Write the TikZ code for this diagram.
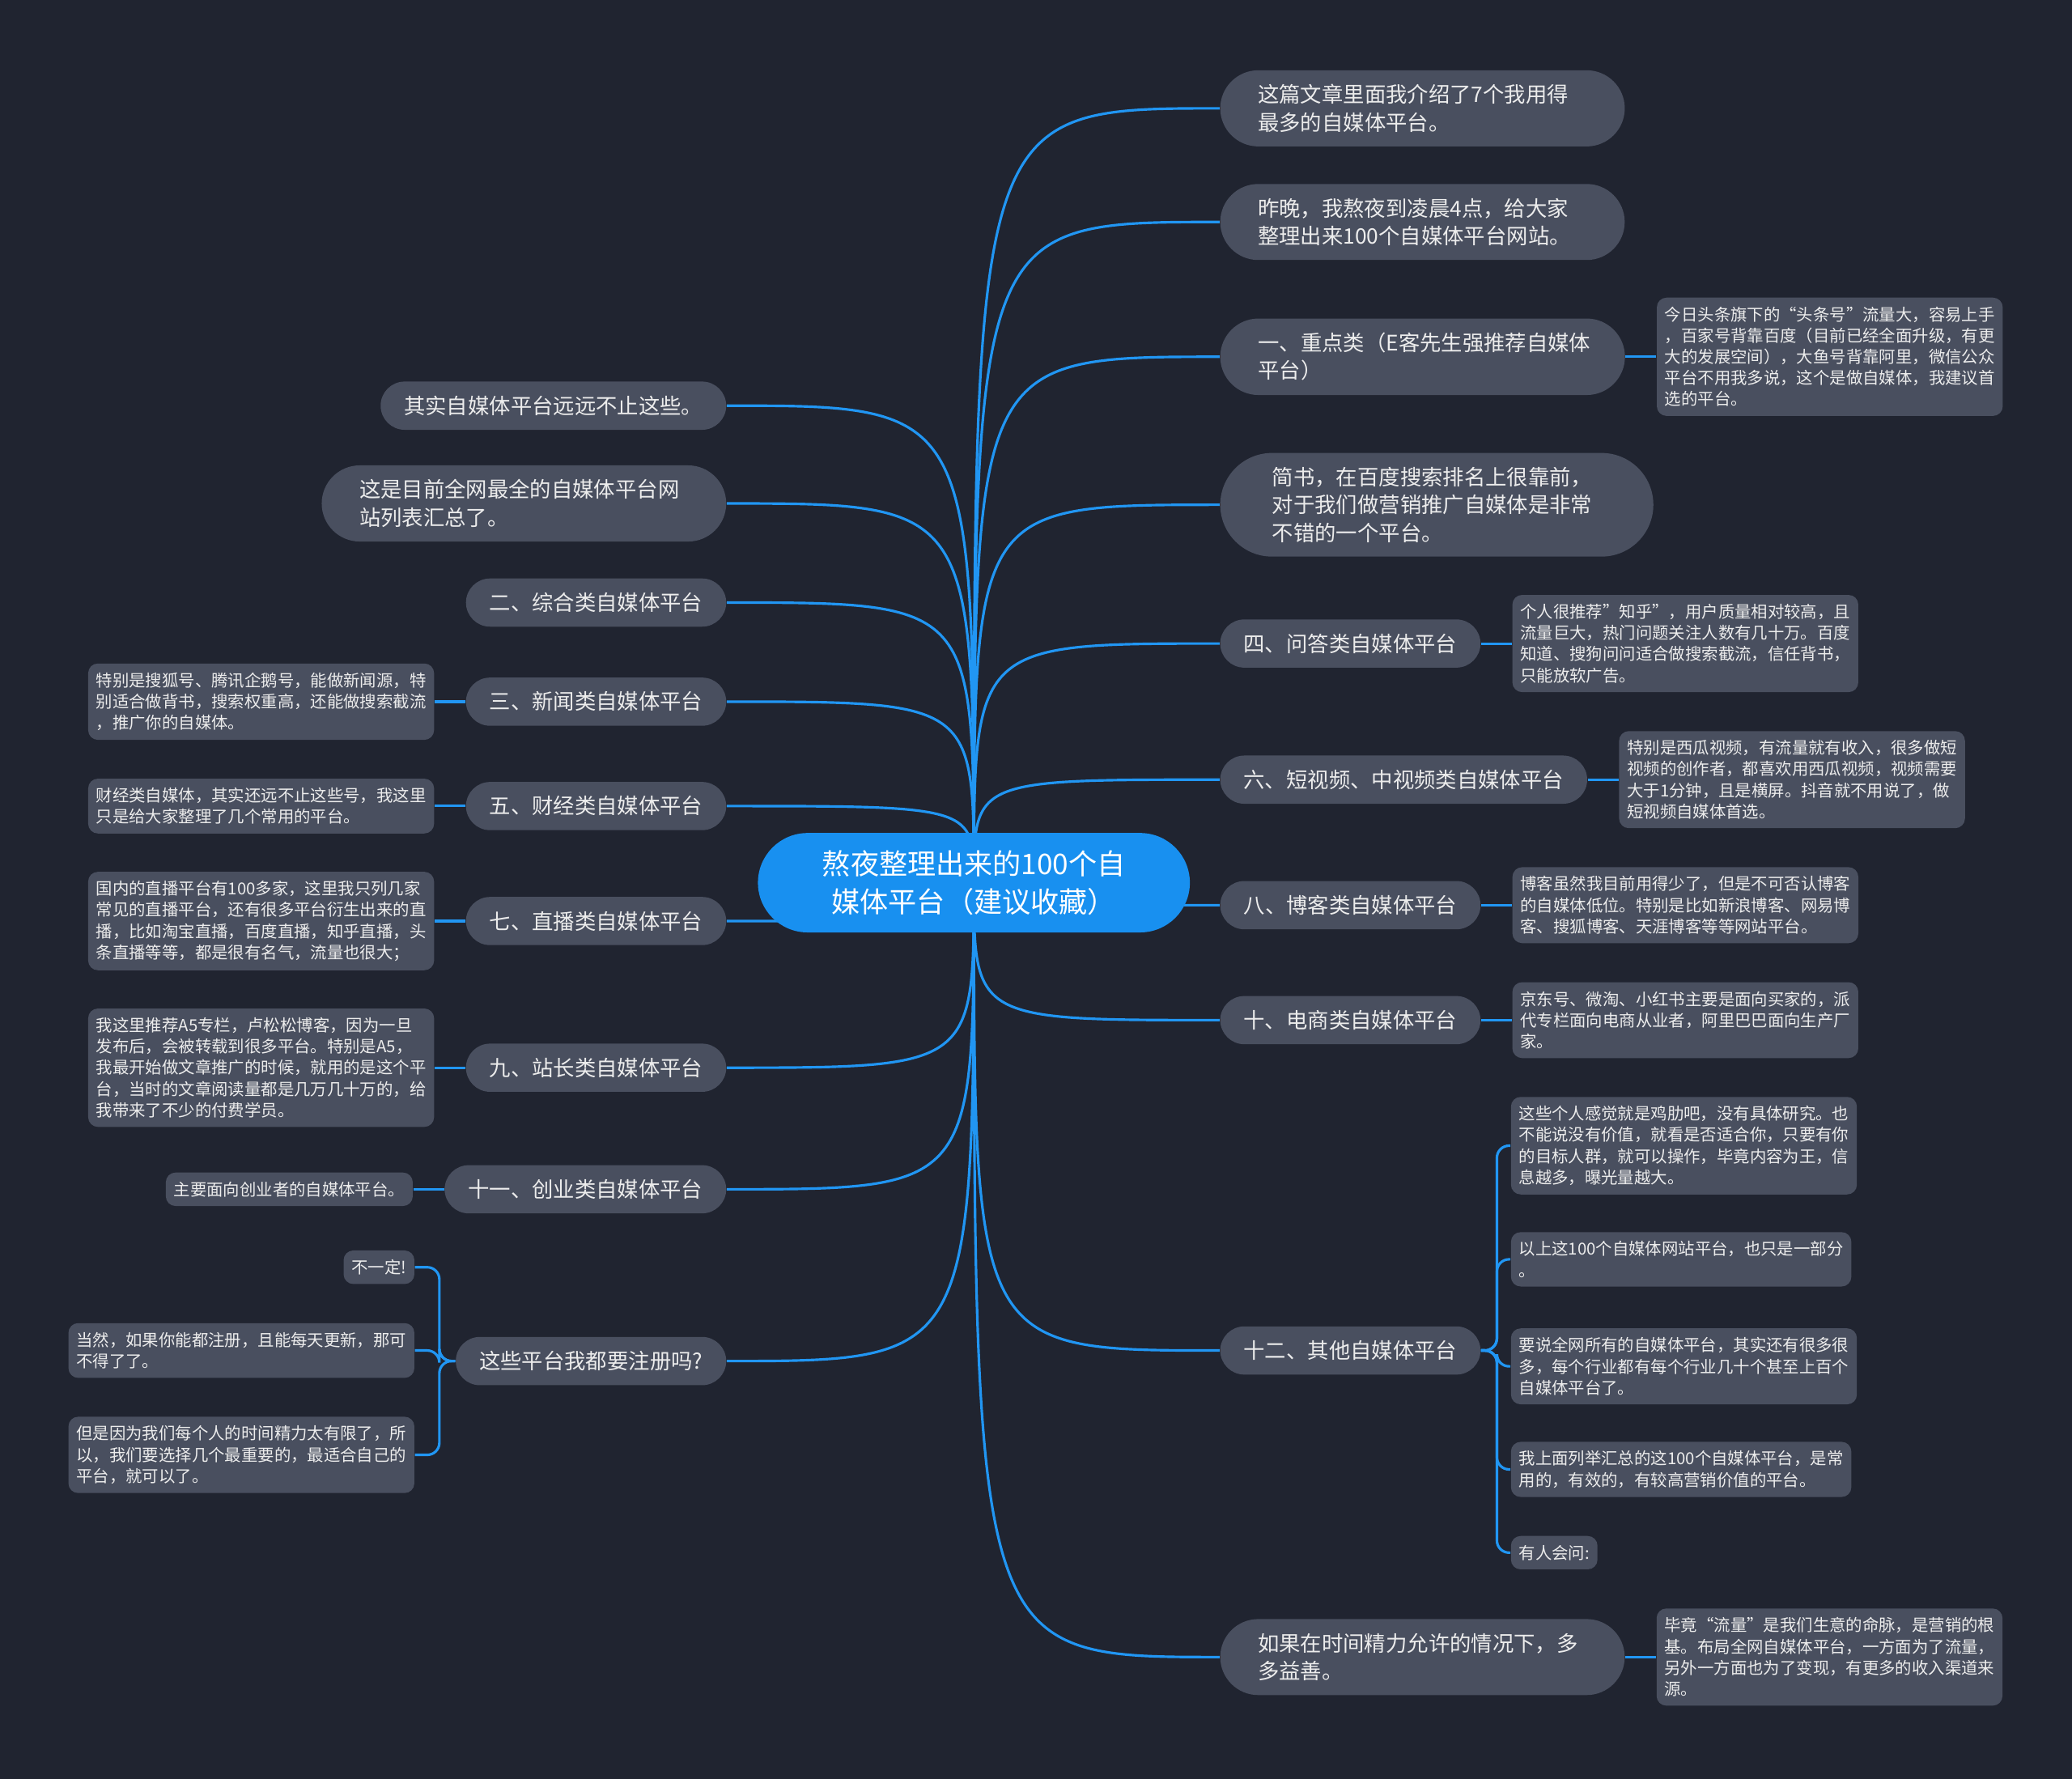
\documentclass[tikz,border=0pt]{standalone}
\usepackage{fontspec}
\setmainfont{Noto Sans CJK SC}
\usetikzlibrary{positioning,shapes.misc}
\definecolor{nightbg}{RGB}{32,36,48}
\definecolor{slatebox}{RGB}{73,79,95}
\definecolor{wireblue}{RGB}{33,150,243}
\definecolor{hubblue}{RGB}{24,144,240}
\definecolor{softwhite}{RGB}{236,236,236}

\begin{document}
\begin{tikzpicture}[x=0.016327cm, y=-0.016327cm, node distance=3.8mm,
  every node/.style={text=softwhite},
  branch/.style={rounded rectangle,fill=slatebox,inner xsep=7.5pt,inner ysep=5pt,
                 align=left,font=\fontsize{7.5}{9.75}\selectfont},
  % wrapped branches: fixed width, the ends grow with the height
  twoline/.style={branch,inner xsep=10.3pt,text width=115.7pt},
  threeline/.style={branch,inner xsep=12.6pt,text width=115.7pt},
  leaf/.style={fill=slatebox,rounded corners=1.2mm,inner xsep=2.8pt,inner ysep=3.2pt,
               align=left,font=\fontsize{5.8}{7.45}\selectfont},
  hubnode/.style={rounded rectangle,fill=hubblue,text=white,inner xsep=18.3pt,inner ysep=6pt,
                  align=center,font=\fontsize{10}{13.5}\selectfont},
  link/.style={draw=wireblue,line width=0.9pt}]

\useasboundingbox (0,0) rectangle (1568,1346);
\fill[nightbg] (0,0) rectangle (1568,1346);

\coordinate (hub) at (737,668);

% right side
\node[twoline,anchor=west] (rA) at (923,82)   {这篇文章里面我介绍了7个我用得\\最多的自媒体平台。};
\node[twoline,anchor=west] (rB) at (923,168)  {昨晚，我熬夜到凌晨4点，给大家\\整理出来100个自媒体平台网站。};
\node[twoline,anchor=west] (rC) at (923,270)  {一、重点类（E客先生强推荐自媒体\\平台）};
\node[threeline,anchor=west] (rD) at (923,382) {简书，在百度搜索排名上很靠前，\\对于我们做营销推广自媒体是非常\\不错的一个平台。};
\node[branch,anchor=west] (rE) at (923,487)  {四、问答类自媒体平台};
\node[branch,anchor=west] (rF) at (923,590)  {六、短视频、中视频类自媒体平台};
\node[branch,anchor=west] (rG) at (923,685)  {八、博客类自媒体平台};
\node[branch,anchor=west] (rH) at (923,772)  {十、电商类自媒体平台};
\node[branch,anchor=west] (rI) at (923,1022) {十二、其他自媒体平台};
\node[twoline,anchor=west] (rJ) at (923,1254) {如果在时间精力允许的情况下，多\\多益善。};

\node[leaf,right=of rC] (cC) {今日头条旗下的“头条号”流量大，容易上手\\，百家号背靠百度（目前已经全面升级，有更\\大的发展空间），大鱼号背靠阿里，微信公众\\平台不用我多说，这个是做自媒体，我建议首\\选的平台。};
\node[leaf,right=of rE] (cE) {个人很推荐”知乎”，用户质量相对较高，且\\流量巨大，热门问题关注人数有几十万。百度\\知道、搜狗问问适合做搜索截流，信任背书，\\只能放软广告。};
\node[leaf,right=of rF] (cF) {特别是西瓜视频，有流量就有收入，很多做短\\视频的创作者，都喜欢用西瓜视频，视频需要\\大于1分钟，且是横屏。抖音就不用说了，做\\短视频自媒体首选。};
\node[leaf,right=of rG] (cG) {博客虽然我目前用得少了，但是不可否认博客\\的自媒体低位。特别是比如新浪博客、网易博\\客、搜狐博客、天涯博客等等网站平台。};
\node[leaf,right=of rH] (cH) {京东号、微淘、小红书主要是面向买家的，派\\代专栏面向电商从业者，阿里巴巴面向生产厂\\家。};
\node[leaf,right=of rJ] (cJ) {毕竟“流量”是我们生意的命脉，是营销的根\\基。布局全网自媒体平台，一方面为了流量，\\另外一方面也为了变现，有更多的收入渠道来\\源。};

\node[leaf,anchor=west] (cI1) at (1143,867)  {这些个人感觉就是鸡肋吧，没有具体研究。也\\不能说没有价值，就看是否适合你，只要有你\\的目标人群，就可以操作，毕竟内容为王，信\\息越多，曝光量越大。};
\node[leaf,anchor=west] (cI2) at (1143,953)  {以上这100个自媒体网站平台，也只是一部分\\。};
\node[leaf,anchor=west] (cI3) at (1143,1034) {要说全网所有的自媒体平台，其实还有很多很\\多，每个行业都有每个行业几十个甚至上百个\\自媒体平台了。};
\node[leaf,anchor=west] (cI4) at (1143,1112) {我上面列举汇总的这100个自媒体平台，是常\\用的，有效的，有较高营销价值的平台。};
\node[leaf,anchor=west] (cI5) at (1143,1175) {有人会问:};

% left side
\node[branch,anchor=east] (lA) at (550,307)  {其实自媒体平台远远不止这些。};
\node[twoline,anchor=east] (lB) at (550,381) {这是目前全网最全的自媒体平台网\\站列表汇总了。};
\node[branch,anchor=east] (lC) at (550,456)  {二、综合类自媒体平台};
\node[branch,anchor=east] (lD) at (550,531)  {三、新闻类自媒体平台};
\node[branch,anchor=east] (lE) at (550,610)  {五、财经类自媒体平台};
\node[branch,anchor=east] (lF) at (550,697)  {七、直播类自媒体平台};
\node[branch,anchor=east] (lG) at (550,808)  {九、站长类自媒体平台};
\node[branch,anchor=east] (lH) at (550,900)  {十一、创业类自媒体平台};
\node[branch,anchor=east] (lI) at (550,1030) {这些平台我都要注册吗?};

\node[leaf,left=of lD] (dD) {特别是搜狐号、腾讯企鹅号，能做新闻源，特\\别适合做背书，搜索权重高，还能做搜索截流\\，推广你的自媒体。};
\node[leaf,left=of lE] (dE) {财经类自媒体，其实还远不止这些号，我这里\\只是给大家整理了几个常用的平台。};
\node[leaf,left=of lF] (dF) {国内的直播平台有100多家，这里我只列几家\\常见的直播平台，还有很多平台衍生出来的直\\播，比如淘宝直播，百度直播，知乎直播，头\\条直播等等，都是很有名气，流量也很大；};
\node[leaf,left=of lG] (dG) {我这里推荐A5专栏，卢松松博客，因为一旦\\发布后，会被转载到很多平台。特别是A5，\\我最开始做文章推广的时候，就用的是这个平\\台，当时的文章阅读量都是几万几十万的，给\\我带来了不少的付费学员。};
\node[leaf,left=of lH] (dH) {主要面向创业者的自媒体平台。};

\node[leaf,anchor=east] (dI1) at (314,959)  {不一定!};
\node[leaf,anchor=east] (dI2) at (314,1022) {当然，如果你能都注册，且能每天更新，那可\\不得了了。};
\node[leaf,anchor=east] (dI3) at (314,1101) {但是因为我们每个人的时间精力太有限了，所\\以，我们要选择几个最重要的，最适合自己的\\平台，就可以了。};

% connectors
\foreach \b in {rA,rB,rC,rD,rE,rF,rG,rH,rI,rJ}
  \draw[link] (hub) .. controls (hub |- \b.west) .. (\b.west);
\foreach \b in {lA,lB,lC,lD,lE,lF,lG,lH,lI}
  \draw[link] (hub) .. controls (hub |- \b.east) .. (\b.east);
\foreach \a/\b in {rC/cC,rE/cE,rF/cF,rG/cG,rH/cH,rJ/cJ} \draw[link] (\a.east) -- (\b.west);
\foreach \a/\b in {lD/dD,lE/dE,lF/dF,lG/dG,lH/dH} \draw[link] (\a.west) -- (\b.east);
\foreach \b in {cI1,cI2,cI3,cI4,cI5}
  \draw[link,rounded corners=1.5mm] (rI.east) -- ++(12,0) |- (\b.west);
\foreach \b in {dI1,dI2,dI3}
  \draw[link,rounded corners=1.5mm] (lI.west) -- ++(-12,0) |- (\b.east);

\node[hubnode] (root) at (hub) {熬夜整理出来的100个自\\媒体平台（建议收藏）};
\end{tikzpicture}
\end{document}
